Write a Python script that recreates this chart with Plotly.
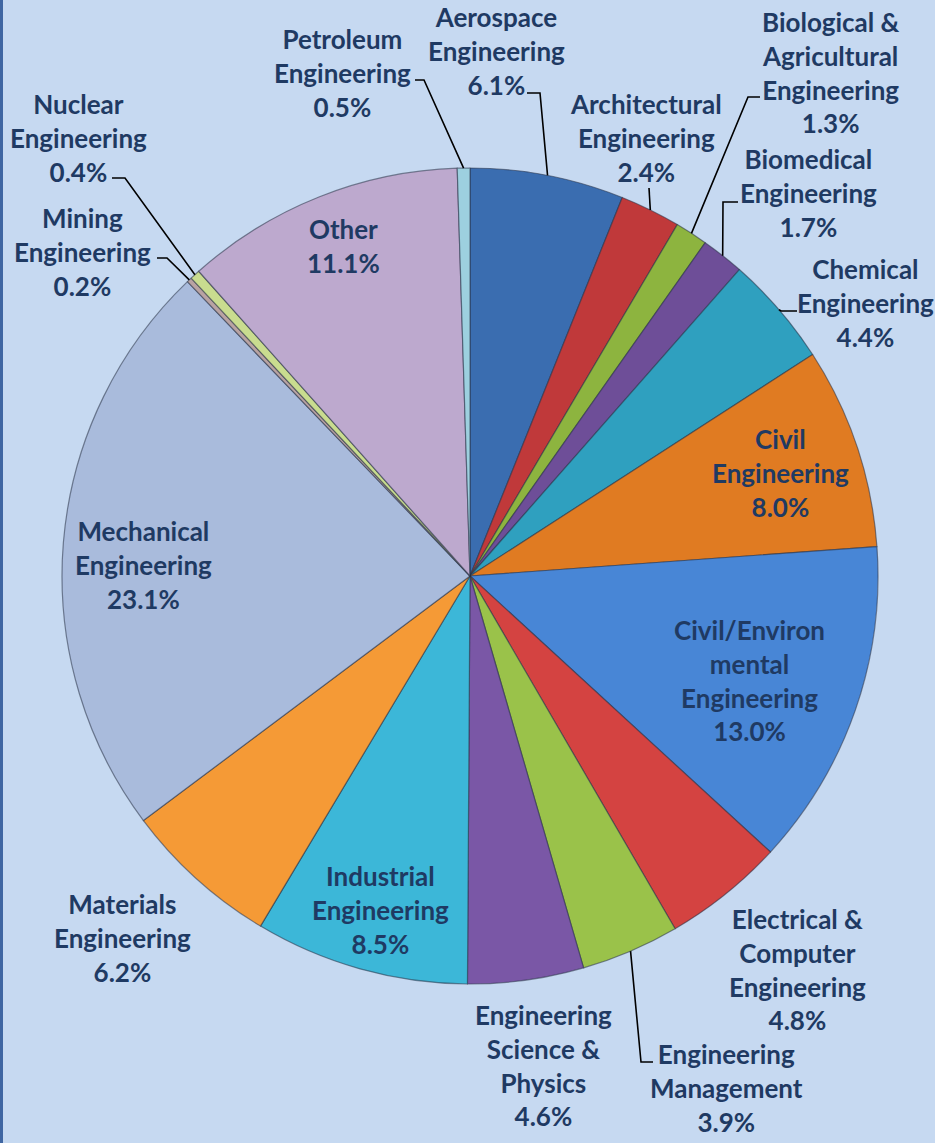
import math
import plotly.graph_objects as go

W, H = 935, 1143

# ---- data ----
categories = [
    "Aerospace Engineering", "Architectural Engineering",
    "Biological & Agricultural Engineering", "Biomedical Engineering",
    "Chemical Engineering", "Civil Engineering",
    "Civil/Environmental Engineering", "Electrical & Computer Engineering",
    "Engineering Management", "Engineering Science & Physics",
    "Industrial Engineering", "Materials Engineering",
    "Mechanical Engineering", "Mining Engineering", "Nuclear Engineering",
    "Other", "Petroleum Engineering",
]
values = [6.1, 2.4, 1.3, 1.7, 4.4, 8.0, 13.0, 4.8, 3.9, 4.6, 8.5, 6.2, 23.1, 0.2, 0.4, 11.1, 0.5]
display_labels = [
    "Aerospace<br>Engineering", "Architectural<br>Engineering",
    "Biological &<br>Agricultural<br>Engineering", "Biomedical<br>Engineering",
    "Chemical<br>Engineering", "Civil<br>Engineering",
    "Civil/Environ<br>mental<br>Engineering", "Electrical &<br>Computer<br>Engineering",
    "Engineering<br>Management", "Engineering<br>Science &<br>Physics",
    "Industrial<br>Engineering", "Materials<br>Engineering",
    "Mechanical<br>Engineering", "Mining<br>Engineering", "Nuclear<br>Engineering",
    "Other", "Petroleum<br>Engineering",
]

# ---- styles / layout ----
colors = [
    "#3A6DB0", "#C0393A", "#8DB43F", "#6E4E98", "#2FA0BF", "#E07B22",
    "#4886D6", "#D44341", "#9AC24A", "#7A57A6", "#3CB7D8", "#F59A36",
    "#A9BBDC", "#B9A3A3", "#C9DC8F", "#BDA9CE", "#9DD0DF",
]
CX, CY, R = 470, 576, 408  # pie centre / radius in px

# label block centres (px) and leader knee points (px)
label_pos = [
    (497, 51), (646, 138), (831, 72), (808, 193), (865, 303), (780, 473),
    (749, 680), (797, 969), (726, 1088), (543, 1065), (380, 910), (122, 938),
    (143, 565), (82, 252), (78, 138), (343, 246), (342, 73),
]
leaders = {
    0: [(527, 93), (540, 93)],
    1: [(649, 188)],
    2: [(760, 97), (748, 97)],
    3: [(738, 202), (723, 202)],
    4: [(797, 311), (781, 311)],
    8: [(653, 1062), (641, 1062)],
    13: [(157, 258), (167, 258)],
    14: [(112, 178), (125, 178)],
    16: [(415, 80), (424, 80)],
}

def px(x, y):
    return x / W, 1 - y / H

fig = go.Figure(go.Pie(
    labels=categories, values=values, sort=False, direction="clockwise",
    rotation=0, textinfo="none", hoverinfo="label+percent",
    marker=dict(colors=colors, line=dict(color="rgba(40,50,70,0.55)", width=1.2)),
    domain=dict(x=[(CX - R) / W, (CX + R) / W],
                y=[(H - CY - R) / H, (H - CY + R) / H]),
    showlegend=False,
))

total = sum(values)
cum = 0.0
annotations = []
shapes = []
for i, v in enumerate(values):
    mid = (cum + v / 2) / total
    cum += v
    ang = 2 * math.pi * mid
    ex, ey = CX + R * math.sin(ang), CY - R * math.cos(ang)
    lx, ly = label_pos[i]
    ax_, ay_ = px(lx, ly)
    annotations.append(dict(
        x=ax_, y=ay_, xref="paper", yref="paper", showarrow=False,
        xanchor="center", yanchor="middle", align="center",
        text=f"{display_labels[i]}<br>{v:.1f}%",
        font=dict(family="Lato", size=26, color="#1F3A63", weight="bold"),
    ))
    if i in leaders:
        pts = leaders[i] + [(ex, ey)]
        path = "M " + " L ".join(f"{px(x, y)[0]:.5f},{px(x, y)[1]:.5f}" for x, y in pts)
        shapes.append(dict(type="path", path=path, xref="paper", yref="paper",
                           line=dict(color="black", width=1.6)))

# left border stripe
shapes.append(dict(type="rect", xref="paper", yref="paper", x0=0, x1=3 / W, y0=0, y1=1,
                   fillcolor="#3F66A2", line=dict(width=0)))

fig.update_layout(
    width=W, height=H, margin=dict(l=0, r=0, t=0, b=0),
    paper_bgcolor="#C6D9F1", plot_bgcolor="#C6D9F1",
    annotations=annotations, shapes=shapes,
)
fig.write_html("out.html")
